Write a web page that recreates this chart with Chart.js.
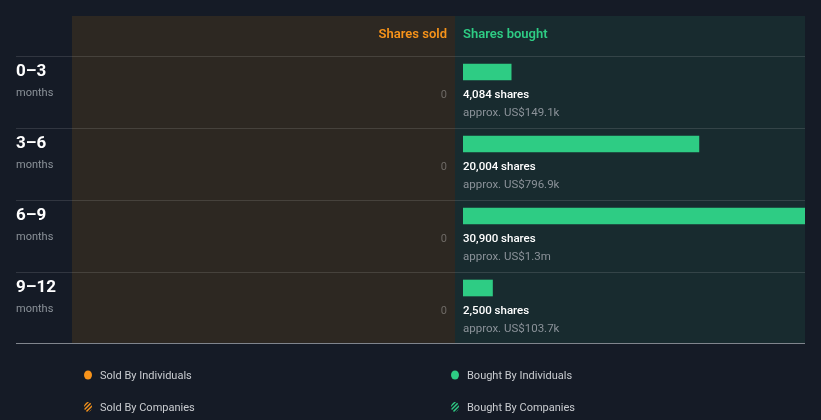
<!DOCTYPE html>
<html>
<head>
<meta charset="utf-8">
<script src="https://cdn.jsdelivr.net/npm/chart.js@4/dist/chart.umd.min.js"></script>
<style>
  html, body { margin: 0; padding: 0; background: #151b26; }
  #wrap { width: 821px; height: 420px; position: relative; }
</style>
</head>
<body>
<div id="wrap"><canvas id="c" width="821" height="420"></canvas></div>
<script>
// ---- data ----
const periods = ['0–3', '3–6', '6–9', '9–12'];
const periodUnit = 'months';
const sharesBought = [4084, 20004, 30900, 2500];
const valueBought = [149100, 796900, 1300000, 103700];
const sharesSold = [0, 0, 0, 0];
const headers = ['Shares sold', 'Shares bought'];
const legendLabels = ['Sold By Individuals', 'Bought By Individuals', 'Sold By Companies', 'Bought By Companies'];

const C = {
  bg: '#151b26',
  soldPanel: '#2d2822',
  boughtPanel: '#182b2f',
  orange: '#f7931a',
  green: '#2ecc84',
  white: '#ffffff',
  grey: '#8b9299',
  zero: '#6e6a66',
  line: 'rgba(255,255,255,0.12)',
  bottomLine: 'rgba(200,205,210,0.6)',
  legendText: '#c9ccd0'
};
const FONT = 'Roboto, "Open Sans", sans-serif';

function fmtMoney(v) {
  if (v >= 1e6) return 'US$' + (Math.round(v / 1e5) / 10) + 'm';
  return 'US$' + (Math.round(v / 100) / 10).toFixed(1) + 'k';
}

const layoutPlugin = {
  id: 'layoutPlugin',
  beforeDatasetsDraw(chart) {
    const ctx = chart.ctx;
    const ys = chart.scales.y;
    const xs = chart.scales.x;
    const area = chart.chartArea;
    const top = 16;
    const bottom = ys.getPixelForValue(periods.length - 1) + 55;
    const splitX = xs.left - 8;
    ctx.save();
    // panels
    ctx.fillStyle = C.soldPanel;
    ctx.fillRect(72, top, splitX - 72, bottom - top);
    ctx.fillStyle = C.boughtPanel;
    ctx.fillRect(splitX, top, area.right - splitX, bottom - top);
    // header
    ctx.font = '600 13px ' + FONT;
    ctx.textBaseline = 'middle';
    ctx.fillStyle = C.orange;
    ctx.textAlign = 'right';
    ctx.fillText(headers[0], splitX - 8, top + 19);
    ctx.fillStyle = C.green;
    ctx.textAlign = 'left';
    ctx.fillText(headers[1], xs.left, top + 19);
    // row lines
    ctx.fillStyle = C.line;
    for (let i = 0; i < periods.length; i++) {
      const yc = ys.getPixelForValue(i);
      ctx.fillRect(16, Math.round(yc - 16), area.right - 16, 1);
    }
    ctx.fillStyle = C.bottomLine;
    ctx.fillRect(16, Math.round(bottom), area.right - 16, 1);
    // row labels + texts
    for (let i = 0; i < periods.length; i++) {
      const yc = ys.getPixelForValue(i);
      ctx.textAlign = 'left';
      ctx.fillStyle = C.white;
      ctx.font = 'bold 17px ' + FONT;
      ctx.fillText(periods[i], 16, yc);
      ctx.fillStyle = C.grey;
      ctx.font = '11px ' + FONT;
      ctx.fillText(periodUnit, 16, yc + 21);
      // sold value
      ctx.textAlign = 'right';
      ctx.fillStyle = C.zero;
      ctx.font = '11px ' + FONT;
      ctx.fillText(sharesSold[i].toLocaleString('en-US'), splitX - 8, yc + 23);
      // bought text
      ctx.textAlign = 'left';
      ctx.fillStyle = C.white;
      ctx.font = '500 11.5px ' + FONT;
      ctx.fillText(sharesBought[i].toLocaleString('en-US') + ' shares', xs.left, yc + 23);
      ctx.fillStyle = C.grey;
      ctx.font = '11.5px ' + FONT;
      ctx.fillText('approx. ' + fmtMoney(valueBought[i]), xs.left, yc + 41);
    }
    // legend
    const lx = [88, 455];
    const ly = [376, 408];
    const cols = [C.orange, C.green];
    ctx.font = '11px ' + FONT;
    ctx.textAlign = 'left';
    for (let r = 0; r < 2; r++) {
      for (let k = 0; k < 2; k++) {
        const x = lx[k], y = ly[r];
        if (r === 0) {
          ctx.fillStyle = cols[k];
          ctx.beginPath();
          ctx.ellipse(x, y - 1, 4, 4.5, 0, 0, Math.PI * 2);
          ctx.fill();
        } else {
          ctx.save();
          ctx.beginPath();
          ctx.ellipse(x, y - 1, 4, 5, 0, 0, Math.PI * 2);
          ctx.clip();
          ctx.strokeStyle = cols[k];
          ctx.lineWidth = 1.5;
          for (let d = -9; d <= 9; d += 4) {
            ctx.beginPath();
            ctx.moveTo(x + d - 6, y + 5);
            ctx.lineTo(x + d + 6, y - 7);
            ctx.stroke();
          }
          ctx.restore();
        }
        ctx.fillStyle = C.legendText;
        ctx.fillText(legendLabels[r * 2 + k], x + 12, y);
      }
    }
    ctx.restore();
  }
};

function build() {
  new Chart(document.getElementById('c'), {
    type: 'bar',
    data: {
      labels: periods,
      datasets: [{
        label: 'Shares bought',
        data: sharesBought,
        backgroundColor: C.green,
        borderWidth: 0,
        barThickness: 16,
        clip: { left: 0, right: 0, top: false, bottom: false }
      }]
    },
    options: {
      indexAxis: 'y',
      responsive: false,
      devicePixelRatio: 1,
      animation: false,
      layout: { padding: { left: 463, right: 16, top: 72, bottom: 132 } },
      scales: {
        x: { display: false, min: 0, max: 29000 },
        y: { display: false, offset: false, grid: { display: false } }
      },
      plugins: { legend: { display: false }, tooltip: { enabled: false } }
    },
    plugins: [layoutPlugin]
  });
}
if (document.fonts && document.fonts.load) {
  Promise.all([
    document.fonts.load('12px Roboto'),
    document.fonts.load('bold 12px Roboto'),
    document.fonts.load('500 12px Roboto')
  ]).then(build, build);
} else build();
</script>
</body>
</html>
